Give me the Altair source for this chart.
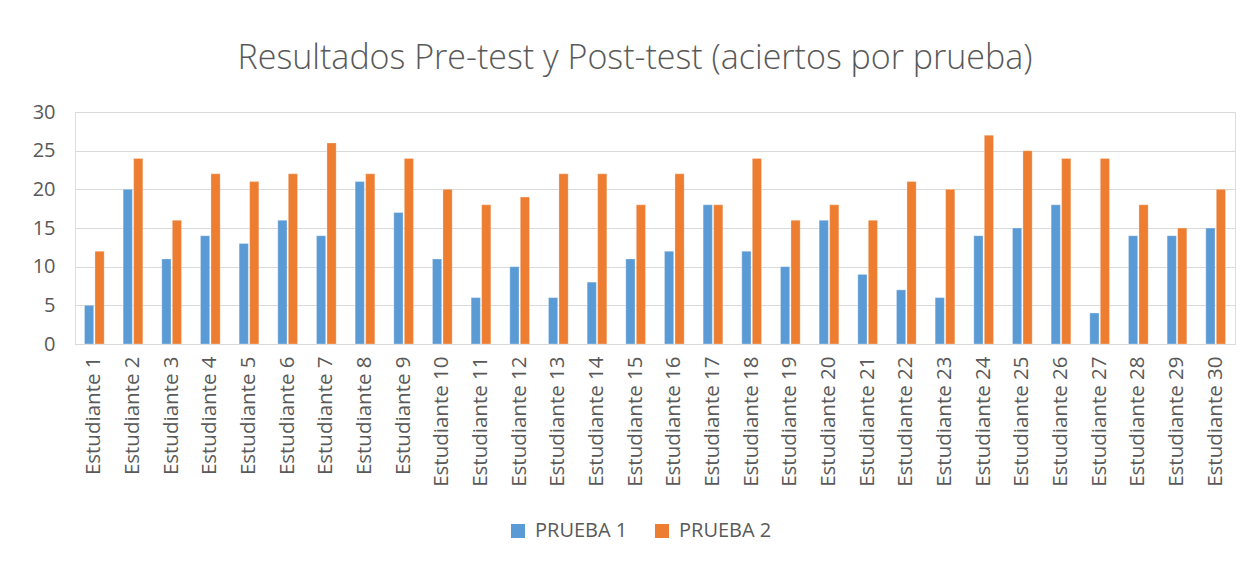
import altair as alt
import pandas as pd

students = [f"Estudiante {i}" for i in range(1, 31)]
prueba1 = [5, 20, 11, 14, 13, 16, 14, 21, 17, 11, 6, 10, 6, 8, 11, 12, 18, 12, 10, 16, 9, 7, 6, 14, 15, 18, 4, 14, 14, 15]
prueba2 = [12, 24, 16, 22, 21, 22, 26, 22, 24, 20, 18, 19, 22, 22, 18, 22, 18, 24, 16, 18, 16, 21, 20, 27, 25, 24, 24, 18, 15, 20]
series = ["PRUEBA 1", "PRUEBA 2"]
colors = ["#5B9BD5", "#ED7D31"]
y_ticks = [0, 5, 10, 15, 20, 25, 30]

rows = []
for s, p1, p2 in zip(students, prueba1, prueba2):
    rows.append({"Estudiante": s, "Serie": series[0], "Valor": p1})
    rows.append({"Estudiante": s, "Serie": series[1], "Valor": p2})
df = pd.DataFrame(rows)

FONT = "Open Sans"
GRAY = "#595959"

chart = alt.Chart(df).mark_bar(stroke="white", strokeWidth=0.5, strokeOpacity=0.6).encode(
    x=alt.X("Estudiante:N", sort=students, title=None,
            scale=alt.Scale(paddingInner=0.49, paddingOuter=0.245),
            axis=alt.Axis(labelAngle=-90, labelFontSize=20.5, labelColor=GRAY, labelFont=FONT,
                          domainColor="#D9D9D9", ticks=False, labelPadding=12, labelLimit=300)),
    xOffset=alt.XOffset("Serie:N", sort=series, scale=alt.Scale(paddingInner=0.12)),
    y=alt.Y("Valor:Q", title=None,
            scale=alt.Scale(domain=[0, 30], nice=False),
            axis=alt.Axis(values=y_ticks, labelFontSize=20, labelColor=GRAY,
                          labelFont=FONT, domain=False, ticks=False, gridColor="#D9D9D9",
                          gridWidth=1, labelPadding=20)),
    color=alt.Color("Serie:N", sort=series,
                    scale=alt.Scale(domain=series, range=colors),
                    legend=alt.Legend(title=None, orient="none", legendX=433, legendY=409,
                                      direction="horizontal", symbolType="square",
                                      symbolSize=196, labelFontSize=20, labelColor=GRAY,
                                      labelFont=FONT, columnPadding=24, labelOffset=7,
                                      symbolStrokeWidth=0)),
).properties(
    width=1160,
    height=232,
    title=alt.TitleParams("Resultados Pre-test y Post-test (aciertos por prueba)",
                          fontSize=34, font=FONT, fontWeight=300, color=GRAY,
                          anchor="middle", offset=26, dx=-20),
    autosize=alt.AutoSizeParams(type="none"),
    padding={"left": 67, "top": 104, "right": 5, "bottom": 214},
).configure_view(stroke=None).configure(background="white")

chart.save("out.html", embed_options={"renderer": "svg", "actions": False})
